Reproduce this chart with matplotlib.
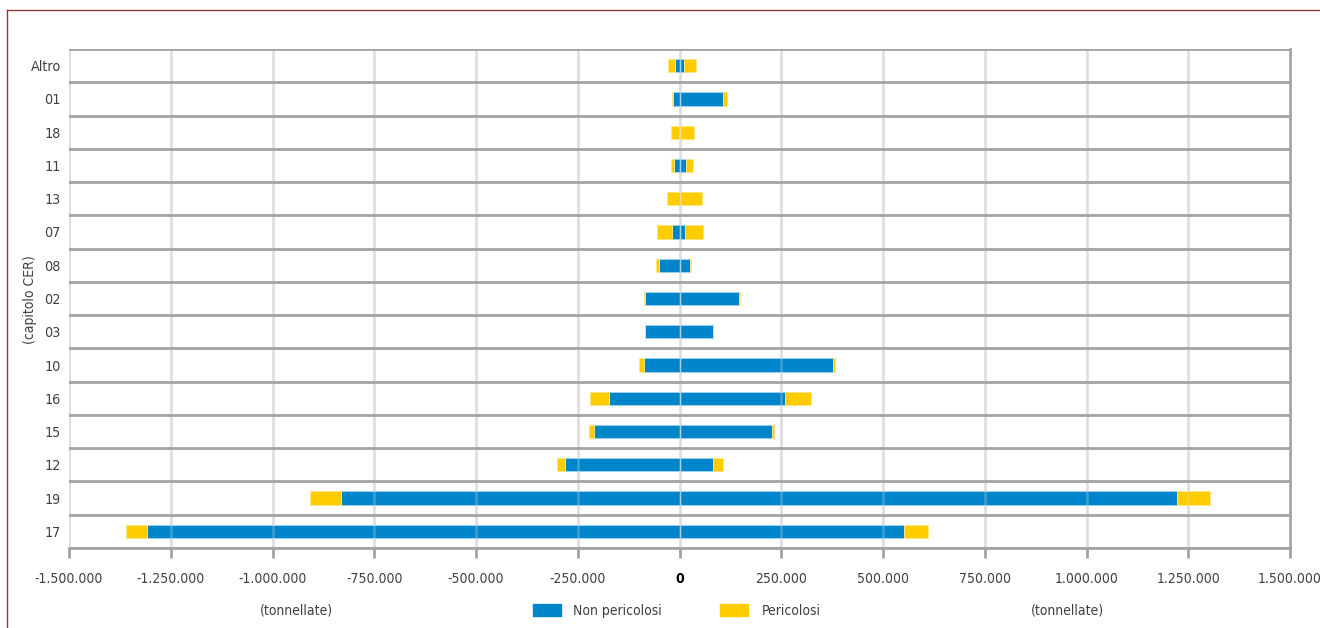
import matplotlib
matplotlib.use('Agg')
import matplotlib.pyplot as plt
from matplotlib.lines import Line2D
from matplotlib.patches import Rectangle
import numpy as np

plt.rcParams['font.family'] = ['Liberation Sans Narrow', 'DejaVu Sans']
plt.rcParams['font.stretch'] = 'condensed'

# capitoli CER, dall'alto verso il basso
categories = ['Altro', '01', '18', '11', '13', '07', '08', '02', '03',
              '10', '16', '15', '12', '19', '17']
# lato negativo (tonnellate, valori assoluti)
neg_non = [11000, 16000, 2000, 13500, 0, 18400, 51000, 84000, 84000,
           88000, 174000, 211000, 281000, 832000, 1308000]
neg_per = [17000, 2000, 18000, 7500, 31500, 37600, 7400, 2000, 1000,
           12300, 46700, 10600, 19700, 76000, 51600]
# lato positivo
pos_non = [11000, 107600, 1000, 16000, 0, 13500, 26500, 146000, 83000,
           376500, 260000, 228000, 82300, 1222000, 551600]
pos_per = [29000, 10000, 34000, 16000, 54500, 45000, 2000, 1500, 500,
           5000, 62200, 5000, 23800, 81000, 59700]

ticks = [-1500000, -1250000, -1000000, -750000, -500000, -250000, 0,
         250000, 500000, 750000, 1000000, 1250000, 1500000]

blue = '#0085CA'
yellow = '#FFCC00'
txt = '#404040'
fs = 10

fig = plt.figure(figsize=(13.2, 6.28), dpi=100)
ax = fig.add_axes([69 / 1320, 1 - 548 / 628, 1221 / 1320, 499 / 628])

n = len(categories)
y = np.arange(n)[::-1]
neg_non = np.array(neg_non)
neg_per = np.array(neg_per)
pos_non = np.array(pos_non)
pos_per = np.array(pos_per)

h = 0.4
kw = dict(height=h, linewidth=0.6, zorder=2)
ax.barh(y, -neg_non, color=blue, edgecolor='#9fd3ef', **kw)
ax.barh(y, -neg_per, left=-neg_non, color=yellow, edgecolor='#ffe680', **kw)
ax.barh(y, pos_non, color=blue, edgecolor='#9fd3ef', **kw)
ax.barh(y, pos_per, left=pos_non, color=yellow, edgecolor='#ffe680', **kw)

ax.set_xlim(-1500000, 1500000)
ax.set_ylim(-0.5, n - 0.5)

# vertical grid: opaque below the bars, faint over them
for t in ticks:
    ax.axvline(t, color='#e0e0e0', lw=1.8, zorder=1)
    ax.axvline(t, color='#d8d8d8', lw=1.8, alpha=0.3, zorder=3)
# horizontal separators
for b in np.arange(n + 1) - 0.5:
    ax.axhline(b, color='#a3a3a3', lw=2, zorder=4)

for s in ['top', 'left']:
    ax.spines[s].set_visible(False)
ax.spines['right'].set_color('#a3a3a3')
ax.spines['right'].set_linewidth(2)
ax.spines['bottom'].set_color('#a3a3a3')
ax.spines['bottom'].set_linewidth(2)

ax.set_xticks(ticks)
labels = []
for t in ticks:
    labels.append('{:,}'.format(t).replace(',', '.') if t != 0 else '0')
ax.set_xticklabels(labels)
ax.tick_params(axis='x', colors='#a3a3a3', width=2, length=7, pad=10,
               labelsize=fs, labelcolor=txt)
for lab in ax.get_xticklabels():
    if lab.get_text() == '0':
        lab.set_color('black')
        lab.set_fontweight('bold')

ax.set_yticks(y)
ax.set_yticklabels(categories)
ax.tick_params(axis='y', length=0, pad=6, labelsize=fs + 0.3, labelcolor=txt)

fig.text(30 / 1320, 1 - 300 / 628, '(capitolo CER)', rotation=90,
         ha='center', va='center', fontsize=fs, color=txt)
fig.text(296 / 1320, 1 - 611 / 628, '(tonnellate)', ha='center', va='center',
         fontsize=fs, color=txt)
fig.text(1067 / 1320, 1 - 611 / 628, '(tonnellate)', ha='center', va='center',
         fontsize=fs, color=txt)

# legend
fig.patches.append(Rectangle((533 / 1320, 1 - 616 / 628), 28 / 1320, 12 / 628,
                             transform=fig.transFigure, color=blue))
fig.text(573 / 1320, 1 - 611 / 628, 'Non pericolosi', ha='left', va='center',
         fontsize=fs, color=txt)
fig.patches.append(Rectangle((720 / 1320, 1 - 616 / 628), 28 / 1320, 12 / 628,
                             transform=fig.transFigure, color=yellow))
fig.text(762 / 1320, 1 - 611 / 628, 'Pericolosi', ha='left', va='center',
         fontsize=fs, color=txt)

# cornice
fig.lines.append(Line2D([7 / 1320, 1], [1 - 10 / 628, 1 - 10 / 628],
                        transform=fig.transFigure, color='#8B3A3A', lw=1))
fig.lines.append(Line2D([7 / 1320, 7 / 1320], [0, 1 - 10 / 628],
                        transform=fig.transFigure, color='#8B3A3A', lw=1))

fig.savefig('out.png', dpi=100)
